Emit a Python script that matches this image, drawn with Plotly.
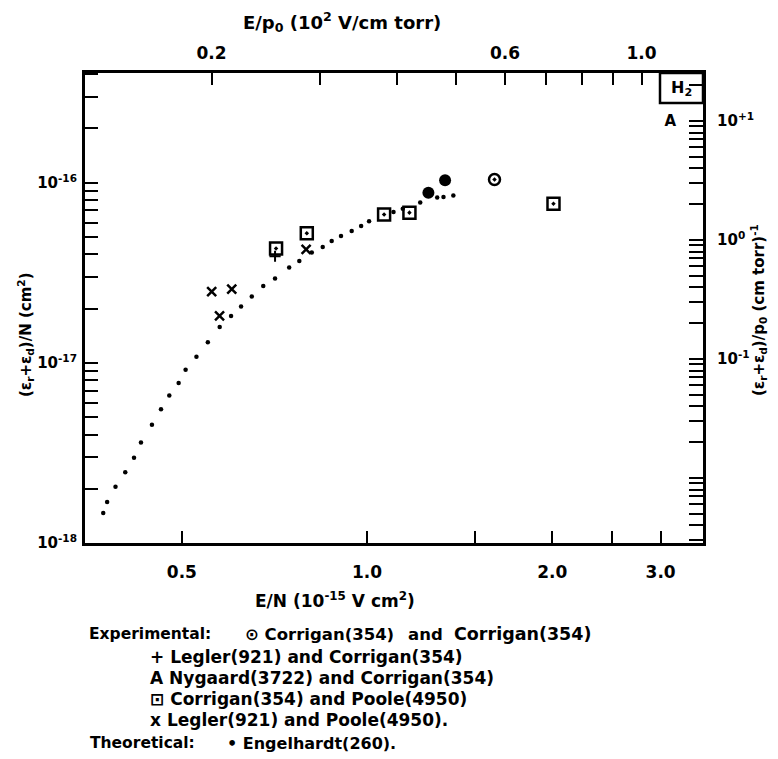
import plotly.graph_objects as go

# ---------------- data (E/N in 1e-15 V cm^2, (eps_r+eps_d)/N in cm^2) ----------------
theory_en = [0.3725, 0.378, 0.390, 0.4045, 0.418, 0.429, 0.447, 0.4624, 0.477, 0.494,
             0.507, 0.528, 0.551, 0.576, 0.601, 0.624, 0.6495, 0.678, 0.7086, 0.7471,
             0.776, 0.813, 0.847, 0.876, 0.907, 0.944, 0.978, 1.0075, 1.104, 1.143,
             1.22, 1.30, 1.331, 1.381]
theory_eps = [1.466e-18, 1.69e-18, 2.05e-18, 2.47e-18, 2.97e-18, 3.61e-18, 4.53e-18, 5.52e-18,
              6.59e-18, 7.73e-18, 9.14e-18, 1.08e-17, 1.30e-17, 1.58e-17, 1.82e-17, 2.05e-17,
              2.336e-17, 2.67e-17, 2.94e-17, 3.38e-17, 3.67e-17, 4.09e-17, 4.39e-17, 4.74e-17,
              5.05e-17, 5.38e-17, 5.74e-17, 6.11e-17, 6.87e-17, 7.16e-17, 7.76e-17, 8.26e-17,
              8.32e-17, 8.47e-17]

corr_corr_en = [1.611]
corr_corr_eps = [1.04e-16]
corr_corr_heavy_en = [1.258, 1.339]
corr_corr_heavy_eps = [8.77e-17, 1.03e-16]

legler_corr_en = [0.7086]
legler_corr_eps = [3.90e-17]

nygaard_en = [3.11]
nygaard_eps = [2.17e-16]

corr_poole_en = [0.7113, 0.798, 1.0657, 1.1718, 2.009]
corr_poole_eps = [4.31e-17, 5.23e-17, 6.65e-17, 6.81e-17, 7.63e-17]

legler_poole_en = [0.559, 0.6026, 0.5757, 0.796]
legler_poole_eps = [2.48e-17, 2.56e-17, 1.82e-17, 4.26e-17]

# axis ticks
x_ticks = [0.5, 1.0, 1.5, 2.0, 2.5, 3.0]
x_ticktext = ["<b>0.5</b>", "<b>1.0</b>", "", "<b>2.0</b>", "", "<b>3.0</b>"]
top_ticks = [0.2, 0.3, 0.4, 0.5, 0.6, 0.7, 0.8, 0.9, 1.0]
top_ticktext = ["<b>0.2</b>", "", "", "", "<b>0.6</b>", "", "", "", "<b>1.0</b>"]
y_dec_text = ["<b>10<sup>-18</sup></b>", "<b>10<sup>-17</sup></b>", "<b>10<sup>-16</sup></b>"]
y2_dec_text = ["<b>10<sup>-1</sup></b>", "<b>10<sup>0</sup></b>", "<b>10<sup>+1</sup></b>"]

FONT = "DejaVu Sans"

def log_ticks(decades, labels, lo, hi):
    vals, txt = [], []
    for d, lab in zip(decades, labels):
        for m in range(1, 10):
            v = d * m
            if lo <= v <= hi:
                vals.append(v)
                txt.append(lab if m == 1 else "")
    return vals, txt

y_vals, y_txt = log_ticks([1e-18, 1e-17, 1e-16], y_dec_text, 1e-18, 4.0e-16)
y2_vals, y2_txt = log_ticks([1e-3, 1e-2, 1e-1, 1e0, 1e1], ["", ""] + y2_dec_text, 2.9e-3, 25)

fig = go.Figure()

fig.add_trace(go.Scatter(x=theory_en, y=theory_eps, mode="markers",
                         marker=dict(symbol="circle", size=4.5, color="black"),
                         showlegend=False))
fig.add_trace(go.Scatter(x=legler_poole_en, y=legler_poole_eps, mode="markers",
                         marker=dict(symbol="x-thin", size=9, color="black",
                                     line=dict(width=2.5, color="black")),
                         showlegend=False))
fig.add_trace(go.Scatter(x=corr_poole_en, y=corr_poole_eps, mode="markers",
                         marker=dict(symbol="square-open-dot", size=12, color="black",
                                     line=dict(width=2.5, color="black")),
                         showlegend=False))
fig.add_trace(go.Scatter(x=legler_corr_en, y=legler_corr_eps, mode="markers",
                         marker=dict(symbol="cross-thin", size=8, color="black",
                                     line=dict(width=2, color="black")),
                         showlegend=False))
fig.add_trace(go.Scatter(x=corr_corr_en, y=corr_corr_eps, mode="markers",
                         marker=dict(symbol="circle-open-dot", size=11, color="black",
                                     line=dict(width=2.5, color="black")),
                         showlegend=False))
fig.add_trace(go.Scatter(x=corr_corr_heavy_en, y=corr_corr_heavy_eps, mode="markers",
                         marker=dict(symbol="circle", size=12, color="black"),
                         showlegend=False))
fig.add_trace(go.Scatter(x=nygaard_en, y=nygaard_eps, mode="text", text=["<b>A</b>"],
                         textfont=dict(family=FONT, size=15, color="black"),
                         showlegend=False))
# empty trace to bind secondary axes
fig.add_trace(go.Scatter(x=[], y=[], xaxis="x2", yaxis="y2", showlegend=False))

axis_common = dict(showgrid=False, zeroline=False, showline=True, linewidth=3,
                   linecolor="black", ticks="inside", tickwidth=2, tickcolor="black")

# page body adds an 8px offset; the plot area is placed at x 85..703, y 73..543 on screen
fig.update_layout(
    width=770, height=751,
    margin=dict(l=77, r=75, t=65, b=216),
    paper_bgcolor="white", plot_bgcolor="white",
    font=dict(family=FONT, color="black"),
    xaxis=dict(type="log", range=[-0.4585, 0.546], tickvals=x_ticks, ticktext=x_ticktext,
               ticklen=12, ticklabelstandoff=12,
               tickfont=dict(family=FONT, size=17, color="black"), **axis_common),
    xaxis2=dict(type="log", range=[-0.9046, 0.0999], overlaying="x", side="top",
                anchor="y", tickvals=top_ticks, ticktext=top_ticktext, ticklen=12,
                ticklabelstandoff=4,
                tickfont=dict(family=FONT, size=17, color="black"), **axis_common),
    yaxis=dict(type="log", range=[-18, -15.392], tickvals=y_vals, ticktext=y_txt,
               ticklen=13, ticklabelstandoff=2,
               tickfont=dict(family=FONT, size=15, color="black"), **axis_common),
    yaxis2=dict(type="log", range=[-2.546, 1.403], overlaying="y", side="right",
                anchor="x", tickvals=y2_vals, ticktext=y2_txt, ticklen=14,
                ticklabelstandoff=8,
                tickfont=dict(family=FONT, size=15, color="black"), **axis_common),
)

W0, W1, H0, H1 = 85, 703, 73, 543
def px(x):
    return (x - W0) / (W1 - W0)
def py(y):
    return (H1 - y) / (H1 - H0)

ann = []
def add(text, x, y, size=15, xanchor="center", textangle=0):
    ann.append(dict(text="<b>" + text + "</b>", x=px(x), y=py(y), xref="paper", yref="paper",
                    showarrow=False, xanchor=xanchor, yanchor="middle",
                    textangle=textangle, font=dict(family=FONT, size=size, color="black")))

add("E/p<sub>0</sub> (10<sup>2</sup> V/cm torr)", 342, 22, 18)
add("E/N (10<sup>-15</sup> V cm<sup>2</sup>)", 335, 600, 17)
add("(ε<sub>r</sub>+ε<sub>d</sub>)/N (cm<sup>2</sup>)", 25, 335, 15, textangle=-90)
add("(ε<sub>r</sub>+ε<sub>d</sub>)/p<sub>0</sub> (cm torr)<sup>-1</sup>", 758, 310, 15, textangle=-90)
add("H<sub>2</sub>", 681, 88, 16)

add("Experimental:", 87, 634, 15.5, "left")
add("⊙ Corrigan(354)", 243, 634, 16.5, "left")
add("and", 406, 634, 16.5, "left")
add("Corrigan(354)", 452, 634, 17.5, "left")
add("+ Legler(921) and Corrigan(354)", 148, 657, 17, "left")
add("A Nygaard(3722) and Corrigan(354)", 148, 678, 17, "left")
add("⊡ Corrigan(354) and Poole(4950)", 148, 699, 17, "left")
add("x Legler(921) and Poole(4950).", 148, 720, 17, "left")
add("Theoretical:", 88, 743, 15.5, "left")
add("• Engelhardt(260).", 225, 743, 16, "left")

fig.update_layout(annotations=ann)
fig.add_shape(type="rect", xref="paper", yref="paper", x0=px(660), x1=px(703),
              y0=py(103), y1=py(73), line=dict(color="black", width=2.5))

fig.write_html("out.html")
